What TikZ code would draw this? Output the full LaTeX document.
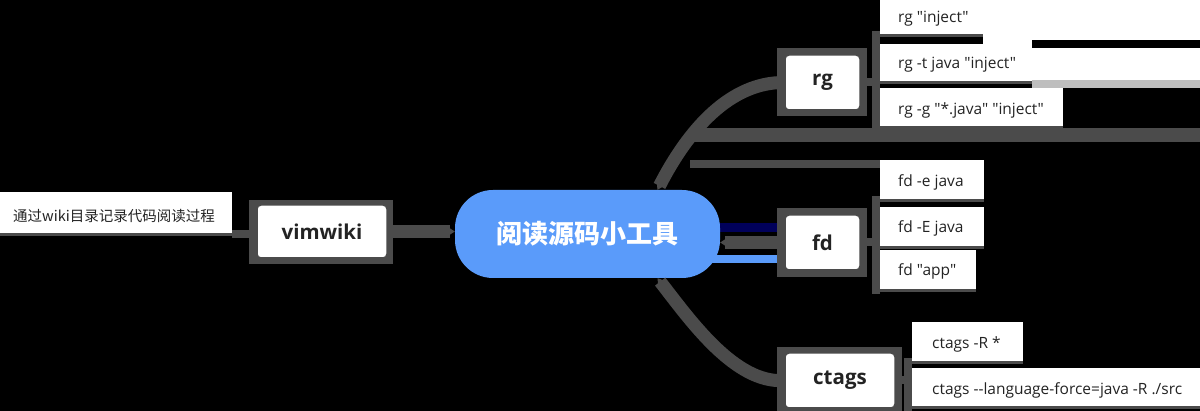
\documentclass[tikz,border=0pt]{standalone}
\usepackage{fontspec}
\setmainfont{Open Sans}[Ligatures=TeXOff]
\newfontfamily\cjk{Noto Sans CJK SC}
\usetikzlibrary{arrows.meta,calc}
\definecolor{cgray}{RGB}{75,75,75}
\definecolor{lgray}{RGB}{190,190,190}
\definecolor{pillblue}{RGB}{90,155,250}
\definecolor{navyband}{RGB}{0,0,90}
\definecolor{ink}{RGB}{35,35,35}
\begin{document}
\begin{tikzpicture}[x=1pt,y=-1pt,
  leafbox/.style={fill=white,draw=none,inner sep=0pt},
  leaftext/.style={anchor=west,inner sep=0pt,text=ink,font=\fontsize{15.5}{18}\selectfont},
  uline/.style={draw=cgray,line width=3pt},
  leafconn/.style={draw=cgray,line width=8pt},
  topic/.style={draw=cgray,line width=1.5pt,fill=white,rounded corners=4pt,inner sep=0pt,text=ink,font=\bfseries\fontsize{20.5}{24}\selectfont},
  pill/.style={fill=pillblue,rounded corners=38pt,minimum width=265pt,minimum height=88pt,inner sep=0pt,text=white,font=\cjk\bfseries\fontsize{26}{30}\selectfont},
  conn/.style={draw=cgray,line width=13pt,-{Stealth[length=7pt,width=9pt]}},
  frame/.style={fill=cgray}
]
\fill[black] (0,0) rectangle (1200,411);
\useasboundingbox (0,0) rectangle (1200,411);
% background remnants
\fill[white] (983,0) rectangle (1200,40);
\fill[white] (983,40) rectangle (1032,48);
\fill[white] (1032,48) rectangle (1200,80);
\fill[lgray] (1032,80) rectangle (1200,88);
\fill[cgray] (690,128) rectangle (1200,142);
\fill[cgray] (690,160) rectangle (880,168);
\fill[navyband] (718,223) rectangle (780,232);
\fill[pillblue] (712,255) rectangle (780,263);
% leaf boxes
\node[leafbox,minimum width=103pt,minimum height=35pt] (L1) at (931.5,17.5) {};
\node[leafbox,minimum width=152pt,minimum height=38pt] (L2) at (956,63) {};
\node[leafbox,minimum width=183pt,minimum height=39pt] (L3) at (971.5,107.5) {};
\node[leafbox,minimum width=104pt,minimum height=40pt] (F1) at (932,180) {};
\node[leafbox,minimum width=104pt,minimum height=40pt] (F2) at (932,227) {};
\node[leafbox,minimum width=96pt,minimum height=40pt] (F3) at (928,270) {};
\node[leafbox,minimum width=111pt,minimum height=40pt] (C1) at (967.5,342) {};
\node[leafbox,minimum width=288pt,minimum height=39pt] (C2) at (1056,387.5) {};
\node[leafbox,minimum width=232pt,minimum height=42pt] (V1) at (116,213) {};
% frames of topic boxes
\fill[frame] (249,200) rectangle (393,264);
\fill[frame] (777,48) rectangle (867,116);
\fill[frame] (777,208) rectangle (867,277);
\fill[frame] (777,347) rectangle (902,411);
% topic nodes
\node[pill] (center) at (587.5,234) {阅读源码小工具};
\node[topic,minimum width=130pt,minimum height=53pt] (vimwiki) at (322,231.5) {vimwiki};
\node[topic,minimum width=75pt,minimum height=55pt] (rg) at (822.5,82.5) {rg};
\node[topic,minimum width=75pt,minimum height=55pt] (fd) at (822.5,242.5) {fd};
\node[topic,minimum width=110pt,minimum height=55pt] (ctags) at (840,380.5) {ctags};
% main connectors
\draw[conn] (vimwiki.east) -- (vimwiki.east -| center.west);
\draw[conn] (fd.west) -- (fd.west -| center.east);
\draw[conn] (rg.west) .. controls (730,82) and (688,130) .. ([xshift=70pt]center.north);
\draw[conn] (ctags.west) .. controls (735,384) and (690,320) .. ([xshift=70pt]center.south);
% leaf connectors
\draw[leafconn] (rg.east) -| ([xshift=-4pt]L1.south west) -- (L1.south west);
\draw[leafconn] (rg.east) -| ([xshift=-4pt]L2.south west) -- (L2.south west);
\draw[leafconn] (rg.east) -| ([xshift=-4pt]L3.south west) -- (L3.south west);
\draw[leafconn] (fd.east) -| ([xshift=-4pt]F1.south west) -- (F1.south west);
\draw[leafconn] (fd.east) -| ([xshift=-4pt]F2.south west) -- (F2.south west);
\draw[leafconn] (fd.east) -| ([xshift=-4pt]F3.south west) -- (F3.south west);
\draw[leafconn] (ctags.east) -| ([xshift=-4pt]C1.south west) -- (C1.south west);
\draw[leafconn] (ctags.east) -| ([xshift=-4pt]C2.south west) -- (C2.south west);
\draw[leafconn] (V1.south east) -- (vimwiki.west |- V1.south east);
% underlines
\foreach \n in {L1,L2,L3,F1,F2,F3,C1,C2,V1}{\draw[uline] (\n.south west) -- (\n.south east);}
% leaf texts
\node[leaftext] (t1) at (898,19) {rg "inject"};
\node[leaftext] (t2) at (898,65) {rg -t java "inject"};
\node[leaftext] (t3) at (898,110) {rg -g "*.java" "inject"};
\node[leaftext] (t4) at (898,182) {fd -e java};
\node[leaftext] (t5) at (898,228) {fd -E java};
\node[leaftext] (t6) at (898,271) {fd "app"};
\node[leaftext] (t7) at (932,344) {ctags -R *};
\node[leaftext] (t8) at (932,390) {ctags --language-force=java -R ./src};
\node[leaftext,font=\cjk\fontsize{14.5}{18}\selectfont] (t9) at (13,216) {通过wiki目录记录代码阅读过程};
\end{tikzpicture}
\end{document}
